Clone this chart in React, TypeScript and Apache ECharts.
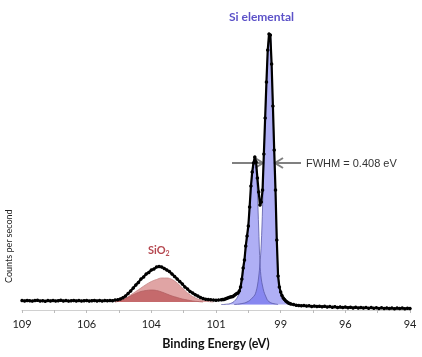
import React, { useEffect, useRef } from "react";
import * as echarts from "echarts";

// Binding energy (eV) vs counts per second
const E0 = 94; // low end of the binding-energy axis
const E1 = 109; // high end

const spectrum: [number, number][] = [
  [109.0, 470], [108.9, 455], [108.8, 480], [108.7, 460], [108.6, 445], [108.5, 470], [108.4, 485], [108.3, 450],
  [108.2, 465], [108.1, 440], [108.0, 470], [107.9, 455], [107.8, 480], [107.7, 450], [107.6, 465], [107.5, 490],
  [107.4, 455], [107.3, 470], [107.2, 445], [107.1, 460], [107.0, 480], [106.9, 455], [106.8, 470], [106.7, 450],
  [106.6, 465], [106.5, 475], [106.4, 445], [106.3, 465], [106.2, 480], [106.1, 455], [106.0, 470], [105.9, 450],
  [105.8, 475], [105.7, 460], [105.6, 470], [105.5, 465],
  [105.4, 500], [105.3, 510], [105.2, 550], [105.1, 610], [105.0, 700], [104.9, 820], [104.8, 950], [104.7, 1100],
  [104.6, 1250], [104.5, 1380], [104.4, 1550], [104.3, 1650], [104.2, 1800], [104.1, 1880], [104.0, 2000],
  [103.9, 2050], [103.8, 2150], [103.7, 2180], [103.6, 2150], [103.5, 2080], [103.4, 2000], [103.3, 1920],
  [103.2, 1800], [103.1, 1680], [103.0, 1550], [102.9, 1420], [102.8, 1300], [102.7, 1150], [102.6, 1050],
  [102.5, 920], [102.4, 850], [102.3, 760], [102.2, 700], [102.1, 620], [102.0, 575], [101.9, 540], [101.8, 525],
  [101.7, 510], [101.6, 500], [101.5, 490], [101.4, 500], [101.3, 510],
  [101.25, 520], [101.2, 525], [101.15, 550], [101.1, 575], [101.05, 600], [101.0, 625], [100.95, 650],
  [100.9, 660], [100.85, 675], [100.8, 725], [100.75, 775], [100.7, 825], [100.65, 850], [100.6, 950],
  [100.55, 1150], [100.5, 1550], [100.45, 2100], [100.4, 2500], [100.35, 3200], [100.3, 3700], [100.25, 4200],
  [100.2, 5150], [100.15, 6200], [100.1, 6900], [100.05, 7350], [100.0, 7650], [99.95, 7400], [99.9, 6600],
  [99.85, 5900], [99.8, 5250], [99.75, 5400], [99.7, 6000], [99.65, 7800], [99.6, 9600], [99.55, 11400],
  [99.5, 13000], [99.45, 13800], [99.4, 13750], [99.35, 12300], [99.3, 10200], [99.25, 8000], [99.2, 6000],
  [99.15, 3500], [99.1, 1700], [99.05, 1150], [99.0, 900], [98.95, 725], [98.9, 600], [98.85, 525],
  [98.8, 450], [98.75, 400], [98.7, 350], [98.65, 325], [98.6, 300],
  [98.5, 270], [98.4, 240], [98.3, 230], [98.2, 210], [98.1, 225], [98.0, 195], [97.9, 210], [97.8, 180],
  [97.7, 200], [97.6, 175], [97.5, 190], [97.4, 160], [97.3, 185], [97.2, 150], [97.1, 170], [97.0, 140],
  [96.9, 165], [96.8, 130], [96.7, 155], [96.6, 120], [96.5, 150], [96.4, 115], [96.3, 140], [96.2, 105],
  [96.1, 135], [96.0, 100], [95.9, 130], [95.8, 95], [95.7, 125], [95.6, 90], [95.5, 120], [95.4, 85],
  [95.3, 115], [95.2, 80], [95.1, 110], [95.0, 75], [94.9, 105], [94.8, 70], [94.7, 100], [94.6, 65],
  [94.5, 95], [94.4, 70], [94.3, 100], [94.2, 60], [94.1, 90], [94.0, 75],
];

// Si 2p1/2 fit component
const siCompA: [number, number][] = [
  [101.3, 275], [101.2, 275], [101.1, 290], [101.0, 300], [100.9, 350], [100.8, 425], [100.7, 575],
  [100.65, 700], [100.6, 850], [100.55, 1100], [100.5, 1450], [100.45, 1900], [100.4, 2400], [100.35, 3000],
  [100.3, 3650], [100.25, 4350], [100.2, 5150], [100.15, 6000], [100.1, 6700], [100.05, 7250], [100.0, 7500],
  [99.95, 7000], [99.9, 5900], [99.85, 4100], [99.8, 2300], [99.75, 1550], [99.7, 1200], [99.65, 925],
  [99.6, 750], [99.55, 600], [99.5, 475], [99.4, 375], [99.3, 325], [99.2, 300], [99.1, 275],
];

// Si 2p3/2 fit component
const siCompB: [number, number][] = [
  [100.8, 275], [100.6, 300], [100.4, 350], [100.3, 400], [100.2, 475], [100.1, 600], [100.0, 750],
  [99.95, 925], [99.9, 1200], [99.85, 1650], [99.8, 2300], [99.75, 3300], [99.7, 5100], [99.65, 7600],
  [99.6, 9500], [99.55, 11300], [99.5, 12900], [99.45, 13700], [99.4, 13750], [99.35, 12300], [99.3, 10200],
  [99.25, 8000], [99.2, 6000], [99.15, 3600], [99.1, 1900], [99.05, 1150], [99.0, 800], [98.95, 625],
  [98.9, 500], [98.85, 425], [98.8, 375], [98.7, 325], [98.6, 300], [98.5, 275], [98.4, 275],
];

// SiO2 fit components
const oxCompLight: [number, number][] = [
  [105.4, 400], [105.2, 475], [105.0, 575], [104.8, 750], [104.6, 925], [104.4, 1100], [104.2, 1275],
  [104.0, 1425], [103.8, 1525], [103.6, 1600], [103.4, 1600], [103.2, 1525], [103.0, 1350], [102.8, 1100],
  [102.6, 850], [102.4, 675], [102.2, 550], [102.0, 475], [101.8, 425], [101.6, 400],
];
const oxCompDark: [number, number][] = [
  [105.4, 400], [105.2, 475], [105.0, 575], [104.8, 700], [104.6, 825], [104.4, 925], [104.2, 975],
  [104.0, 1000], [103.8, 975], [103.6, 900], [103.4, 800], [103.2, 700], [103.0, 625], [102.8, 550],
  [102.6, 500], [102.4, 450], [102.2, 425], [102.0, 400],
];

const siBackground = 275;
const oxBackground = 400;

const toXY = (arr: [number, number][]) => arr.map(([be, c]) => [be - E0, c]);

export default function App() {
  const ref = useRef<HTMLDivElement>(null);
  useEffect(() => {
    if (!ref.current) return;
    const chart = echarts.init(ref.current, undefined, { renderer: "svg" });
    const compLine = (color: string) => ({ color, width: 0.8 });
    chart.setOption({
      animation: false,
      grid: { left: 22, right: 12, top: 20, height: 290 },
      xAxis: {
        type: "value",
        inverse: true,
        min: 0,
        max: E1 - E0,
        interval: 1.25,
        name: "Binding Energy (eV)",
        nameLocation: "middle",
        nameGap: 27,
        nameTextStyle: { fontFamily: "Lato", fontWeight: "bold", fontSize: 12.5, color: "#111" },
        axisLine: { show: true, lineStyle: { color: "#d0d0d0", width: 1 } },
        axisTick: { show: true, length: 3, lineStyle: { color: "#bbbbbb" } },
        splitLine: { show: false },
        axisLabel: {
          fontFamily: "Lato",
          fontSize: 11,
          color: "#222",
          margin: 8,
          formatter: (v: number) => {
            const k = v / 2.5;
            if (Math.abs(k - Math.round(k)) > 1e-6) return "";
            return String(Math.floor(E0 + v + 1e-9));
          },
        },
      },
      yAxis: {
        type: "value",
        min: 0,
        max: 14500,
        show: false,
        splitLine: { show: false },
      },
      series: [
        {
          type: "line",
          data: toXY(oxCompLight),
          smooth: 0.4,
          showSymbol: false,
          lineStyle: compLine("#c78686"),
          areaStyle: { color: "#e0a4a4", opacity: 1, origin: oxBackground },
          z: 1,
        },
        {
          type: "line",
          data: toXY(oxCompDark),
          smooth: 0.4,
          showSymbol: false,
          lineStyle: compLine("#b35f62"),
          areaStyle: { color: "#c56a6c", opacity: 1, origin: oxBackground },
          z: 2,
        },
        {
          type: "line",
          data: toXY(siCompA),
          smooth: 0.3,
          showSymbol: false,
          lineStyle: compLine("#5a5aa8"),
          areaStyle: { color: "rgba(95,95,235,0.5)", opacity: 1, origin: siBackground },
          z: 1,
        },
        {
          type: "line",
          data: toXY(siCompB),
          smooth: 0.3,
          showSymbol: false,
          lineStyle: compLine("#5a5aa8"),
          areaStyle: { color: "rgba(95,95,235,0.5)", opacity: 1, origin: siBackground },
          z: 1,
        },
        {
          type: "line",
          data: toXY(spectrum),
          symbol: "circle",
          symbolSize: 3.5,
          showSymbol: true,
          itemStyle: { color: "#000" },
          lineStyle: { color: "#000", width: 2.2 },
          z: 5,
        },
      ],
      graphic: [
        {
          type: "text",
          left: 229,
          top: 10,
          style: { text: "Si elemental", fontFamily: "Lato", fontWeight: "bold", fontSize: 12, fill: "#5c52c8" },
        },
        {
          type: "text",
          left: 148,
          top: 244,
          style: {
            text: "{a|SiO}{b|2}",
            rich: {
              a: { fontFamily: "Lato", fontWeight: "bold", fontSize: 11, fill: "#b5474f" },
              b: { fontFamily: "Lato", fontWeight: "bold", fontSize: 7, fill: "#b5474f", verticalAlign: "bottom", padding: [6, 0, 0, 0] },
            },
          },
        },
        {
          type: "text",
          left: 306,
          top: 157,
          style: { text: "FWHM = 0.408 eV", fontFamily: "Liberation Sans", fontSize: 11, fill: "#333" },
        },
        { type: "line", shape: { x1: 232, y1: 163, x2: 262, y2: 163 }, style: { stroke: "#808080", lineWidth: 2 } },
        { type: "polyline", shape: { points: [[255, 158], [263, 163], [255, 168]] }, style: { stroke: "#808080", lineWidth: 2, fill: null } },
        { type: "line", shape: { x1: 276, y1: 163, x2: 301, y2: 163 }, style: { stroke: "#808080", lineWidth: 2 } },
        { type: "polyline", shape: { points: [[283, 158], [275, 163], [283, 168]] }, style: { stroke: "#808080", lineWidth: 2, fill: null } },
        {
          type: "text",
          x: 4,
          y: 283,
          rotation: Math.PI / 2,
          style: { text: "Counts per second", fontFamily: "Lato", fontSize: 9, fill: "#222" },
        },
      ],
    });
    return () => chart.dispose();
  }, []);
  return <div ref={ref} style={{ position: "fixed", left: 0, top: 0, width: 422, height: 357 }} />;
}
